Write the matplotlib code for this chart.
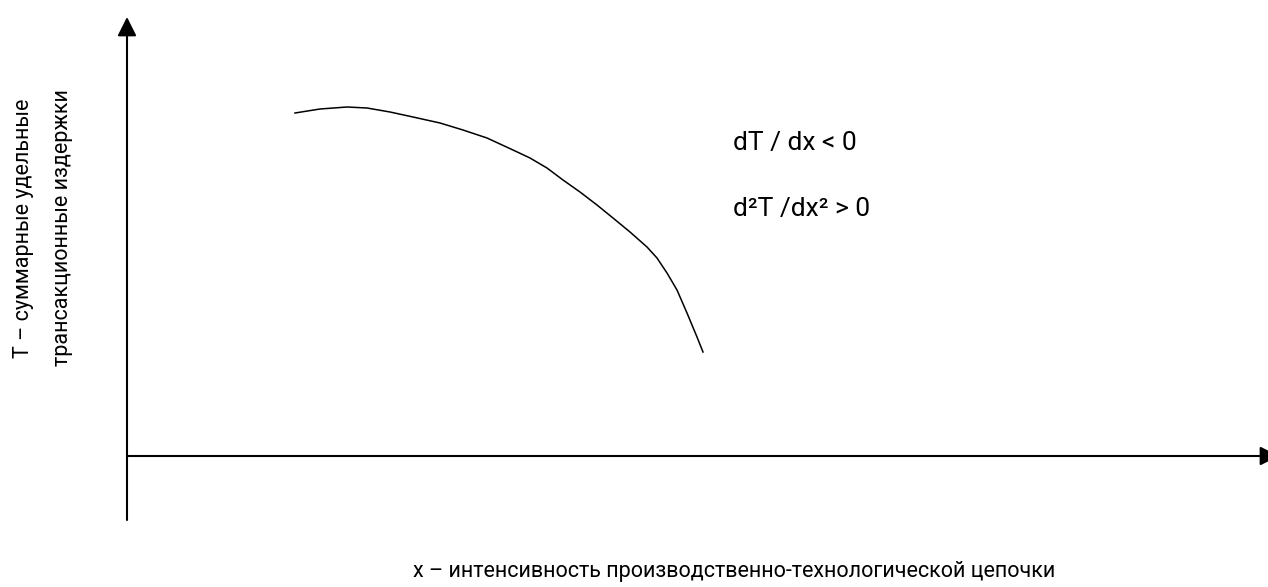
#!/usr/bin/env python3

import matplotlib
matplotlib.use('Agg')
import matplotlib.pyplot as plt

# curve T(x) (origin at the axes crossing)
curve_x = [1.68, 1.93, 2.20, 2.40, 2.63, 2.86, 3.13, 3.36, 3.60, 3.86, 4.03, 4.20,
           4.36, 4.53, 4.70, 4.86, 5.03, 5.20, 5.30, 5.40, 5.50, 5.60, 5.70, 5.76]
curve_t = [3.43, 3.47, 3.49, 3.48, 3.44, 3.39, 3.33, 3.26, 3.18, 3.06, 2.98, 2.88,
           2.76, 2.64, 2.51, 2.38, 2.24, 2.09, 1.98, 1.83, 1.66, 1.43, 1.19, 1.04]

x_label = 'х – интенсивность производственно-технологической цепочки'
y_label = ['Т – суммарные удельные', 'трансакционные издержки']
notes = ['dT / dx < 0', 'd²T /dx² > 0']

plt.rcParams['font.family'] = ['Roboto', 'DejaVu Sans']


def main():
    fig = plt.figure(figsize=(12.68, 5.87), dpi=100)
    ax = fig.add_axes([0, 0, 1, 1])
    ax.set_xlim(-1.27, 11.41)
    ax.set_ylim(-1.31, 4.56)
    ax.axis('off')

    arrow = dict(arrowstyle='-|>,head_length=0.8,head_width=0.4', lw=1.5,
                 color='black', mutation_scale=14.4, shrinkA=0, shrinkB=0)
    ax.annotate('', xy=(0, 4.39), xytext=(0, -0.64), arrowprops=arrow)
    ax.annotate('', xy=(11.52, 0), xytext=(0, 0), arrowprops=arrow,
                annotation_clip=False)

    ax.plot(curve_x, curve_t, color='black', lw=1.1, solid_joinstyle='round')

    ax.text(6.06, 3.13, notes[0], fontsize=19, va='center', ha='left')
    ax.text(6.06, 2.47, notes[1], fontsize=19, va='center', ha='left')

    ax.text(2.86, -1.16, x_label, fontsize=15.5, va='center', ha='left')
    ax.text(-1.03, 2.28, y_label[0], fontsize=15.5, rotation=90, va='center', ha='center')
    ax.text(-0.64, 2.28, y_label[1], fontsize=15.5, rotation=90, va='center', ha='center')

    fig.savefig('out.png', dpi=100)


if __name__ == '__main__':
    main()
